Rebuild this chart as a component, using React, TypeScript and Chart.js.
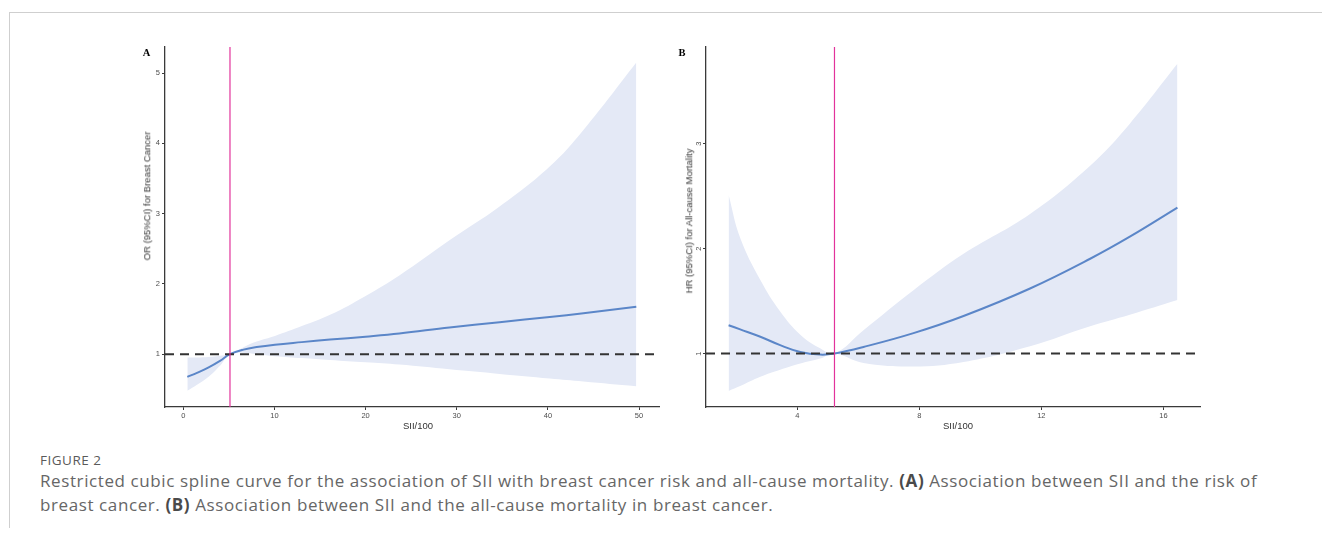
import React, { useEffect, useRef } from "react";
import { Chart, registerables } from "chart.js";

Chart.register(...registerables);

// ---------- Panel A: OR for breast cancer ----------
const xA = [0.44, 1.5, 2.78, 4.02, 5.12, 6.6, 8.05, 10.05, 13, 16.1, 20, 23.7, 29.2, 34.7, 40.2, 43.9, 49.7];
const fitA = [0.677, 0.735, 0.812, 0.905, 1.0, 1.065, 1.102, 1.136, 1.172, 1.208, 1.25, 1.295, 1.38, 1.455, 1.53, 1.583, 1.674];
const lowerA = [0.48, 0.565, 0.68, 0.835, 1.0, 1.02, 1.0, 0.972, 0.945, 0.918, 0.885, 0.852, 0.785, 0.72, 0.655, 0.612, 0.544];
const upperA = [0.952, 0.953, 0.96, 0.978, 1.0, 1.1, 1.18, 1.26, 1.4, 1.56, 1.83, 2.12, 2.62, 3.1, 3.67, 4.19, 5.15];
const xTicksA = [0, 10, 20, 30, 40, 50];
const yTicksA = [1, 2, 3, 4, 5];
const xRangeA = [-2.01, 52.19];
const yRangeA = [0.249, 5.371];
const cutoffA = 5.12;

// ---------- Panel B: HR for all-cause mortality ----------
const xB = [1.75, 2.13, 2.79, 3.44, 4.1, 4.75, 5.22, 6.17, 7.81, 9.45, 11.63, 13.6, 14.9, 16.46];
const fitB = [1.27, 1.23, 1.16, 1.08, 1.015, 0.99, 1.0, 1.063, 1.195, 1.358, 1.62, 1.903, 2.113, 2.39];
const lowerB = [0.644, 0.69, 0.778, 0.845, 0.905, 0.952, 1.0, 0.91, 0.877, 0.92, 1.07, 1.26, 1.37, 1.51];
const upperB = [2.51, 2.1, 1.7, 1.4, 1.18, 1.05, 1.0, 1.222, 1.603, 1.95, 2.33, 2.79, 3.19, 3.76];
const xTicksB = [4, 8, 12, 16];
const yTicksB = [1, 2, 3];
const xRangeB = [1.009, 17.2];
const yRangeB = [0.491, 3.92];
const cutoffB = 5.22;

const refY = 1;

const BAND = "#e4e9f6";
const LINE = "#5b86c8";
const VLINE = "#e2339b";
const DASH = "#333333";
const AXIS = "#3a3a3a";
const TICKTEXT = "#4d4d4d";

type PanelCfg = {
  x: number[];
  fit: number[];
  lower: number[];
  upper: number[];
  xTicks: number[];
  yTicks: number[];
  xRange: number[];
  yRange: number[];
  cutoff: number;
  yAxisWidth: number;
  xAxisHeight: number;
  padTop: number;
  padRight: number;
  rotateY: boolean;
};

function pts(xs: number[], ys: number[]) {
  return xs.map((x, i) => ({ x, y: ys[i] }));
}

function makeChart(canvas: HTMLCanvasElement, c: PanelCfg) {
  const tickFont = { family: "'Liberation Sans', Arial, sans-serif", size: 7.5 };
  return new Chart(canvas, {
    type: "line",
    data: {
      datasets: [
        {
          data: pts(c.x, c.lower),
          borderWidth: 0,
          borderColor: "rgba(0,0,0,0)",
          pointRadius: 0,
          tension: 0.4,
          fill: false,
          order: 5,
        },
        {
          data: pts(c.x, c.upper),
          borderWidth: 0,
          borderColor: "rgba(0,0,0,0)",
          backgroundColor: BAND,
          pointRadius: 0,
          tension: 0.4,
          fill: "-1",
          order: 4,
        },
        {
          data: pts(c.x, c.fit),
          borderWidth: 2,
          borderColor: LINE,
          pointRadius: 0,
          tension: 0.4,
          fill: false,
          order: 3,
        },
        {
          data: [
            { x: c.xRange[0], y: refY },
            { x: c.xRange[1], y: refY },
          ],
          borderWidth: 2,
          borderColor: DASH,
          borderDash: [9, 6],
          pointRadius: 0,
          fill: false,
          order: 2,
        },
        {
          data: [
            { x: c.cutoff, y: c.yRange[0] },
            { x: c.cutoff, y: c.yRange[1] },
          ],
          borderWidth: 1.2,
          borderColor: VLINE,
          pointRadius: 0,
          fill: false,
          order: 1,
        },
      ],
    },
    options: {
      animation: false,
      responsive: false,
      devicePixelRatio: 1,
      layout: { padding: { top: c.padTop, right: c.padRight, left: 0, bottom: 0 } },
      plugins: { legend: { display: false }, tooltip: { enabled: false } },
      scales: {
        x: {
          type: "linear",
          min: c.xRange[0],
          max: c.xRange[1],
          afterBuildTicks: (s: any) => {
            s.ticks = c.xTicks.map((v) => ({ value: v }));
          },
          afterFit: (s: any) => {
            s.height = c.xAxisHeight;
          },
          grid: { display: true, drawOnChartArea: false, drawTicks: true, tickLength: 3, color: AXIS, lineWidth: 1 },
          border: { display: true, color: AXIS, width: 1.3 },
          ticks: { font: tickFont, color: TICKTEXT, padding: 1, maxRotation: 0, minRotation: 0 },
        },
        y: {
          type: "linear",
          min: c.yRange[0],
          max: c.yRange[1],
          afterBuildTicks: (s: any) => {
            s.ticks = c.yTicks.map((v) => ({ value: v }));
          },
          afterFit: (s: any) => {
            s.width = c.yAxisWidth;
          },
          grid: { display: true, drawOnChartArea: false, drawTicks: true, tickLength: 3, color: AXIS, lineWidth: 1 },
          border: { display: true, color: AXIS, width: 1.3 },
          ticks: c.rotateY
            ? { font: tickFont, color: TICKTEXT, padding: 2, minRotation: 90, maxRotation: 90, crossAlign: "center" }
            : { font: tickFont, color: TICKTEXT, padding: 2 },
        },
      },
    } as any,
  });
}

const axisTitle: React.CSSProperties = {
  position: "absolute",
  fontFamily: "'Liberation Sans', Arial, sans-serif",
  fontSize: "9.5px",
  color: "#333",
  whiteSpace: "nowrap",
  lineHeight: 1,
};

const panelLabel: React.CSSProperties = {
  position: "absolute",
  fontFamily: "'Liberation Serif', 'Times New Roman', serif",
  fontWeight: "bold",
  fontSize: "10.5px",
  color: "#000",
  lineHeight: 1,
  transform: "translate(-50%, -50%)",
};

export default function App() {
  const refA = useRef<HTMLCanvasElement>(null);
  const refB = useRef<HTMLCanvasElement>(null);

  useEffect(() => {
    const a = makeChart(refA.current!, {
      x: xA, fit: fitA, lower: lowerA, upper: upperA,
      xTicks: xTicksA, yTicks: yTicksA, xRange: xRangeA, yRange: yRangeA,
      cutoff: cutoffA, yAxisWidth: 45, xAxisHeight: 43, padTop: 17, padRight: 11, rotateY: false,
    });
    const b = makeChart(refB.current!, {
      x: xB, fit: fitB, lower: lowerB, upper: upperB,
      xTicks: xTicksB, yTicks: yTicksB, xRange: xRangeB, yRange: yRangeB,
      cutoff: cutoffB, yAxisWidth: 46, xAxisHeight: 43, padTop: 17, padRight: 20, rotateY: true,
    });
    return () => {
      a.destroy();
      b.destroy();
    };
  }, []);

  return (
    <div style={{ position: "absolute", left: 0, top: 0, width: 1322, height: 538, background: "#fff", overflow: "hidden" }}>
      <div
        style={{
          position: "absolute",
          left: 9,
          top: 12,
          width: 1330,
          height: 515,
          borderTop: "1px solid #cfcfcf",
          borderLeft: "1px solid #cfcfcf",
        }}
      />
      <canvas ref={refA} width={550} height={420} style={{ position: "absolute", left: 120, top: 30, width: 550, height: 420 }} />
      <canvas ref={refB} width={560} height={420} style={{ position: "absolute", left: 660, top: 30, width: 560, height: 420 }} />

      <div style={{ ...panelLabel, left: 146.5, top: 53 }}>A</div>
      <div style={{ ...panelLabel, left: 682, top: 53 }}>B</div>

      <div style={{ ...axisTitle, left: 147, top: 195.5, transform: "translate(-50%, -50%) rotate(-90deg)" }}>
        OR (95%CI) for Breast Cancer
      </div>
      <div style={{ ...axisTitle, left: 689, top: 221, transform: "translate(-50%, -50%) rotate(-90deg)" }}>
        HR (95%CI) for All-cause Mortality
      </div>
      <div style={{ ...axisTitle, left: 418, top: 425.7, transform: "translate(-50%, -50%)" }}>SII/100</div>
      <div style={{ ...axisTitle, left: 958, top: 425.7, transform: "translate(-50%, -50%)" }}>SII/100</div>

      <div
        style={{
          position: "absolute",
          left: 40,
          top: 452,
          fontFamily: "'Open Sans', 'Noto Sans', sans-serif",
          fontSize: "13.5px",
          letterSpacing: "0.5px",
          color: "#5a5a5a",
          lineHeight: "16px",
          whiteSpace: "nowrap",
        }}
      >
        FIGURE 2
      </div>
      <div
        style={{
          position: "absolute",
          left: 40,
          top: 469,
          fontFamily: "'Open Sans', 'Noto Sans', sans-serif",
          fontSize: "17px",
          letterSpacing: "0.6px",
          color: "#666666",
          lineHeight: "24px",
          whiteSpace: "nowrap",
        }}
      >
        Restricted cubic spline curve for the association of SII with breast cancer risk and all-cause mortality.{" "}
        <b style={{ color: "#4a4a4a" }}>(A)</b> Association between SII and the risk of
        <br />
        breast cancer. <b style={{ color: "#4a4a4a" }}>(B)</b> Association between SII and the all-cause mortality in breast cancer.
      </div>
    </div>
  );
}
